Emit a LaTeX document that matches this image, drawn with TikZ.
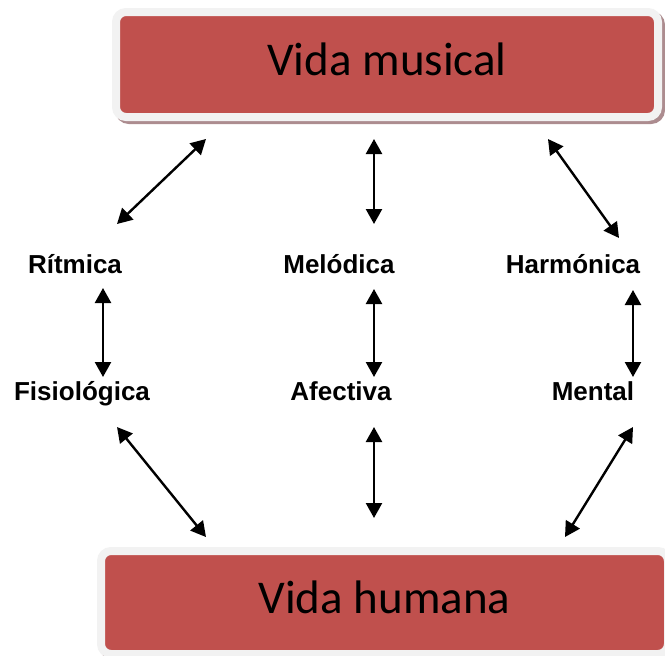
\documentclass[tikz,border=0pt]{standalone}
\usepackage{fontspec}
\setmainfont{Liberation Sans}
\newfontfamily\boxfont{Carlito}
\usetikzlibrary{arrows.meta}
\definecolor{boxred}{HTML}{C0504D}
\definecolor{framegray}{HTML}{F2F2F2}
\definecolor{shadowc}{RGB}{172,140,143}
\begin{document}
\begin{tikzpicture}[x=1pt,y=-1pt,
  redbox/.style={fill=boxred, draw=framegray, line width=8pt, rounded corners=10pt,
    inner sep=0pt, text height=21pt, text depth=0pt,
    font=\boxfont\fontsize{47}{56}\selectfont,
    preaction={draw=shadowc, fill=shadowc, line width=8pt, transform canvas={shift={(3pt,-3pt)}}}},
  lbl/.style={font=\fontsize{26}{30}\selectfont\bfseries, inner sep=0pt, anchor=base},
  biarrow/.style={line width=2.4pt, {Triangle[length=15pt 0,width=16pt 0]}-{Triangle[length=15pt 0,width=16pt 0]}}]
\useasboundingbox (0,0) rectangle (665,656);

\node[redbox, minimum width=542pt, minimum height=105pt] (top) at (387,64.5) {Vida musical};
\node[redbox, minimum width=567pt, minimum height=103pt] (bottom) at (384.5,602.5) {Vida humana};

\node[lbl] (rit) at (75,273) {Rítmica};
\node[lbl] (mel) at (339,273) {Melódica};
\node[lbl] (har) at (573,273) {Harmónica};
\node[lbl] (fis) at (82,400) {Fisiológica};
\node[lbl] (afe) at (341,400) {Afectiva};
\node[lbl] (men) at (593,400) {Mental};

\coordinate (a1s) at (206,139); \coordinate (a1e) at (117,224);
\coordinate (a2s) at (374,139); \coordinate (a2e) at (374,224);
\coordinate (a3s) at (548,139); \coordinate (a3e) at (619,238);
\coordinate (a4s) at (103,288); \coordinate (a4e) at (103,377);
\coordinate (a5s) at (374,289); \coordinate (a5e) at (374,377);
\coordinate (a6s) at (633,290); \coordinate (a6e) at (633,377);
\coordinate (a7s) at (117,427); \coordinate (a7e) at (206,537);
\coordinate (a8s) at (374,427); \coordinate (a8e) at (374,518);
\coordinate (a9s) at (633,427); \coordinate (a9e) at (565,537);

\draw[biarrow] (a1s) -- (a1e);
\draw[biarrow] (a2s) -- (a2e);
\draw[biarrow] (a3s) -- (a3e);
\draw[biarrow] (a4s) -- (a4e);
\draw[biarrow] (a5s) -- (a5e);
\draw[biarrow] (a6s) -- (a6e);
\draw[biarrow] (a7s) -- (a7e);
\draw[biarrow] (a8s) -- (a8e);
\draw[biarrow] (a9s) -- (a9e);
\end{tikzpicture}
\end{document}
